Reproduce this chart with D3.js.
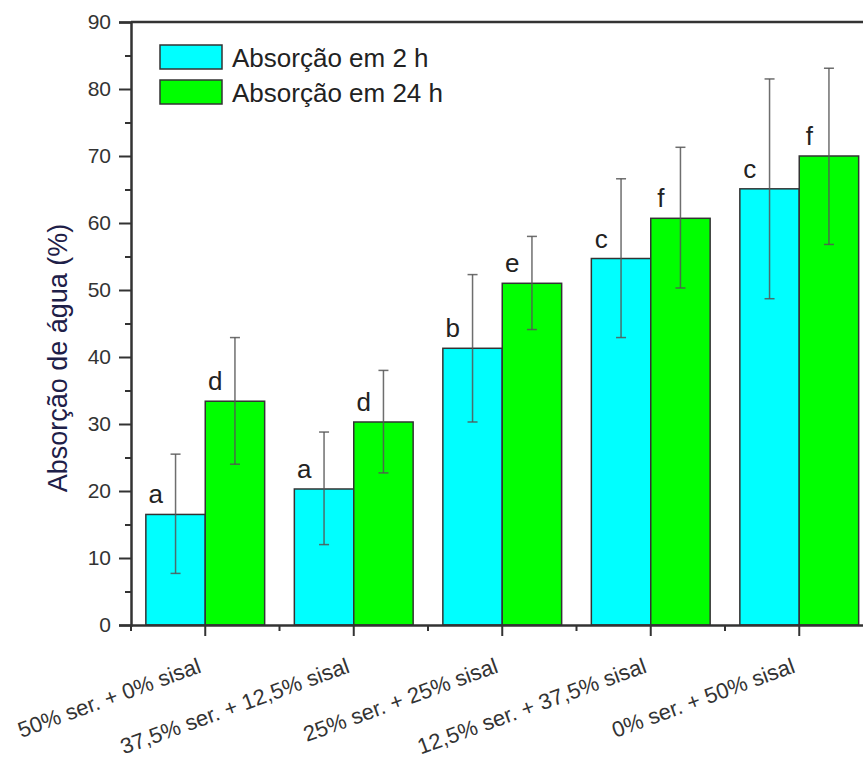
<!DOCTYPE html>
<html>
<head>
<meta charset="UTF-8">
<title>Absorção de água</title>
<script src="https://cdnjs.cloudflare.com/ajax/libs/d3/7.8.5/d3.min.js"></script>
<style>
  body { margin: 0; background: #fff; }
  svg { display: block; font-family: "Liberation Sans", Arial, sans-serif; }
  .axis path, .axis line { stroke: #333; }
  .axis text { fill: #333; }
</style>
</head>
<body>
<script>
// data
var categories = ["50% ser. + 0% sisal", "37,5% ser. + 12,5% sisal", "25% ser. + 25% sisal",
                  "12,5% ser. + 37,5% sisal", "0% ser. + 50% sisal"];
var seriesNames = ["Absorção em 2 h", "Absorção em 24 h"];
var abs2h  = [16.5, 20.3, 41.3, 54.7, 65.1];
var abs24h = [33.4, 30.3, 51.0, 60.7, 70.0];
var err2hLow   = [7.7, 12.0, 30.3, 42.9, 48.7];
var err2hHigh  = [25.5, 28.8, 52.3, 66.6, 81.5];
var err24hLow  = [24.0, 22.7, 44.1, 50.3, 56.8];
var err24hHigh = [42.9, 38.0, 58.0, 71.3, 83.1];
var letters2h  = ["a", "a", "b", "c", "c"];
var letters24h = ["d", "d", "e", "f", "f"];
var yTicks = [0, 10, 20, 30, 40, 50, 60, 70, 80, 90];

var colors = ["#00ffff", "#00ff00"];

var W = 863, H = 758;
var plotL = 131, plotR = 873.5, plotT = 22, plotB = 625;

var svg = d3.select("body").append("svg")
    .attr("width", W)
    .attr("height", H);

var x = d3.scaleBand().domain(categories).range([plotL, plotR])
    .paddingInner(0.2).paddingOuter(0.1);
var xs = d3.scaleBand().domain([0, 1]).range([0, x.bandwidth()]);
var y = d3.scaleLinear().domain([0, 90]).range([plotB, plotT]);

var rows = categories.map(function(c, i) {
  return [
    {cat: c, s: 0, v: abs2h[i], lo: err2hLow[i], hi: err2hHigh[i], l: letters2h[i]},
    {cat: c, s: 1, v: abs24h[i], lo: err24hLow[i], hi: err24hHigh[i], l: letters24h[i]}
  ];
});
var flat = [].concat.apply([], rows);

// bars
svg.append("g").selectAll("rect")
  .data(flat)
  .enter().append("rect")
    .attr("x", function(d) { return x(d.cat) + xs(d.s); })
    .attr("y", function(d) { return y(d.v); })
    .attr("width", xs.bandwidth())
    .attr("height", function(d) { return y(0) - y(d.v); })
    .attr("fill", function(d) { return colors[d.s]; })
    .attr("stroke", "#333")
    .attr("stroke-width", 1.5);

// error bars
var eb = svg.append("g").attr("stroke", "#555").attr("stroke-opacity", 0.85).attr("stroke-width", 1.5);
flat.forEach(function(d) {
  var cx = x(d.cat) + xs(d.s) + xs.bandwidth() / 2;
  eb.append("line").attr("x1", cx).attr("x2", cx).attr("y1", y(d.lo)).attr("y2", y(d.hi));
  eb.append("line").attr("x1", cx - 5).attr("x2", cx + 5).attr("y1", y(d.lo)).attr("y2", y(d.lo));
  eb.append("line").attr("x1", cx - 5).attr("x2", cx + 5).attr("y1", y(d.hi)).attr("y2", y(d.hi));
});

// significance letters
svg.append("g").selectAll("text")
  .data(flat)
  .enter().append("text")
    .attr("x", function(d) { return x(d.cat) + xs(d.s) + 10; })
    .attr("y", function(d) { return y(d.v) - 11; })
    .attr("text-anchor", "middle")
    .attr("font-size", 26)
    .attr("fill", "#222")
    .text(function(d) { return d.l; });

// y axis
var yAxis = svg.append("g").attr("class", "axis")
    .attr("transform", "translate(" + plotL + ",0)")
    .call(d3.axisLeft(y).tickValues(yTicks).tickSize(12).tickPadding(8));
yAxis.select(".domain").attr("stroke-width", 2.5);
yAxis.selectAll(".tick line").attr("stroke-width", 2);
yAxis.selectAll("text").attr("font-size", 21);

var yMinor = svg.append("g").attr("class", "axis")
    .attr("transform", "translate(" + plotL + ",0)")
    .call(d3.axisLeft(y).tickValues(d3.range(5, 90, 10)).tickSize(6).tickFormat(""));
yMinor.select(".domain").remove();
yMinor.selectAll(".tick line").attr("stroke-width", 2);

// x axis
var xAxis = svg.append("g").attr("class", "axis")
    .attr("transform", "translate(0," + plotB + ")")
    .call(d3.axisBottom(x).tickSize(11).tickSizeOuter(0).tickFormat(""));
xAxis.select(".domain").attr("stroke-width", 2.5);
xAxis.selectAll(".tick line").attr("stroke-width", 2);

var step = x.step();
var edges = categories.map(function(c) { return x(c) - step * x.paddingInner() / 2; });
svg.append("g").attr("class", "axis").selectAll("line")
  .data(edges)
  .enter().append("line")
    .attr("x1", function(d) { return d; }).attr("x2", function(d) { return d; })
    .attr("y1", plotB).attr("y2", plotB + 6)
    .attr("stroke-width", 2);

svg.append("g").selectAll("text")
  .data(categories)
  .enter().append("text")
    .attr("transform", function(d) {
      return "translate(" + (x(d) + x.bandwidth() / 2 - 3) + "," + (plotB + 47) + ") rotate(-20)";
    })
    .attr("text-anchor", "end")
    .attr("font-size", 22)
    .attr("fill", "#333")
    .text(function(d) { return d; });

// top frame
svg.append("line")
    .attr("x1", plotL).attr("x2", W).attr("y1", plotT).attr("y2", plotT)
    .attr("stroke", "#333").attr("stroke-width", 2.5);

// y label
svg.append("text")
    .attr("transform", "translate(67,358) rotate(-90)")
    .attr("text-anchor", "middle")
    .attr("font-size", 27)
    .attr("fill", "#1e2048")
    .text("Absorção de água (%)");

// legend
var lg = svg.append("g").attr("transform", "translate(160,45)");
seriesNames.forEach(function(n, i) {
  lg.append("rect").attr("x", 0).attr("y", i * 35).attr("width", 62).attr("height", 24)
    .attr("fill", colors[i]).attr("stroke", "#333").attr("stroke-width", 1.5);
  lg.append("text").attr("x", 72).attr("y", i * 35 + 22)
    .attr("font-size", 26).attr("fill", "#222").text(n);
});
</script>
</body>
</html>
